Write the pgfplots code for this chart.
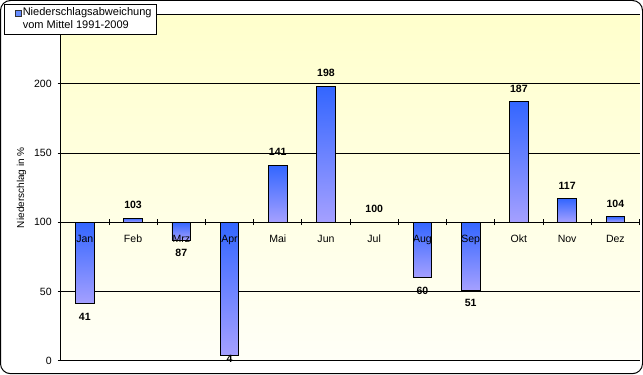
\documentclass[border=0pt]{standalone}
\usepackage{pgfplots}
\usepackage{pgfplotstable}
\pgfplotsset{compat=1.18}
\usepackage{fontspec}
\setmainfont{Liberation Sans}
\definecolor{barTop}{RGB}{51,102,255}
\definecolor{barBot}{RGB}{165,160,255}
\definecolor{bgTop}{RGB}{255,255,204}
\definecolor{bgMid}{RGB}{255,255,224}
\definecolor{bgBot}{RGB}{255,255,247}

\pgfplotstableread{
m v ly
1 41 28.9
2 103 109.7
3 87 74.9
4 4 -1.2
5 141 147.7
6 198 204.7
7 100 106.7
8 60 47.9
9 51 38.9
10 187 193.7
11 117 123.7
12 104 110.7
}\data

\begin{document}
\begin{tikzpicture}
\begin{axis}[
  set layers,
  scale only axis, width=577pt, height=345pt,
  xmin=0.5, xmax=12.5, ymin=-100, ymax=150,
  clip=false,
  axis y line*=left, axis x line*=middle,
  hide obscured x ticks=false,
  axis line style={black, line width=0.8pt},
  axis background/.style={shade, top color=bgTop, middle color=bgMid, bottom color=bgBot},
  ymajorgrids=true,
  grid style={black, line width=0.8pt},
  ytick={-100,-50,0,50,100,150},
  yticklabels={0,50,100,150,200,{}},
  xtick={0.5,1.5,...,12.5},
  x tick label as interval,
  xticklabels={Jan,Feb,Mrz,Apr,Mai,Jun,Jul,Aug,Sep,Okt,Nov,Dez},
  tick align=center, major tick length=6pt,
  tick style={black, line width=0.8pt},
  /pgf/number format/assume math mode=true,
  ticklabel style={font=\fontsize{10.5}{12}\selectfont},
  xticklabel style={yshift=-6pt},
  yticklabel style={xshift=-2.5pt},
  ylabel={Niederschlag in \%},
  every axis y label/.style={at={([xshift=-39pt]axis description cs:0,0.5)}, rotate=90, anchor=center, font=\fontsize{10}{12}\selectfont},
  legend style={at={(0,1)}, anchor=north west, xshift=-57pt, yshift=11pt, draw=black, fill=white, line width=0.8pt, font=\fontsize{11}{13}\selectfont, inner xsep=3pt, inner ysep=2pt, nodes={inner xsep=1.5pt}, cells={align=left}},
  legend image code/.code={\path[draw=none,fill=none] (-4pt,6pt) -- (10pt,6pt);\draw[fill=barTop!75!white, draw=black!80, line width=0.6pt] (4pt,3pt) rectangle (10pt,9pt);},
]
\addlegendimage{}
\addlegendentry{Niederschlagsabweichung\\vom Mittel 1991-2009}
\pgfplotsinvokeforeach{1,2,3,4,5,6,8,9,10,11,12}{
\addplot[ybar, on layer=axis ticks, forget plot, bar width=0.385, draw=black, line width=0.8pt, top color=barTop, bottom color=barBot, restrict x to domain=#1:#1]
  table[x=m, y expr=\thisrow{v}-100] {\data};
}
\addplot[draw=none, mark=none, forget plot, nodes near coords, point meta=explicit,
  nodes near coords style={font=\bfseries\fontsize{10.5}{12}\selectfont, inner sep=0pt}]
  table[x=m, y expr=\thisrow{ly}-100, meta=v] {\data};
\draw[line width=1pt, rounded corners=10pt] ([shift={(-60pt,-13pt)}]rel axis cs:0,0) rectangle ([shift={(3pt,14pt)}]rel axis cs:1,1);
\end{axis}
\end{tikzpicture}
\end{document}
